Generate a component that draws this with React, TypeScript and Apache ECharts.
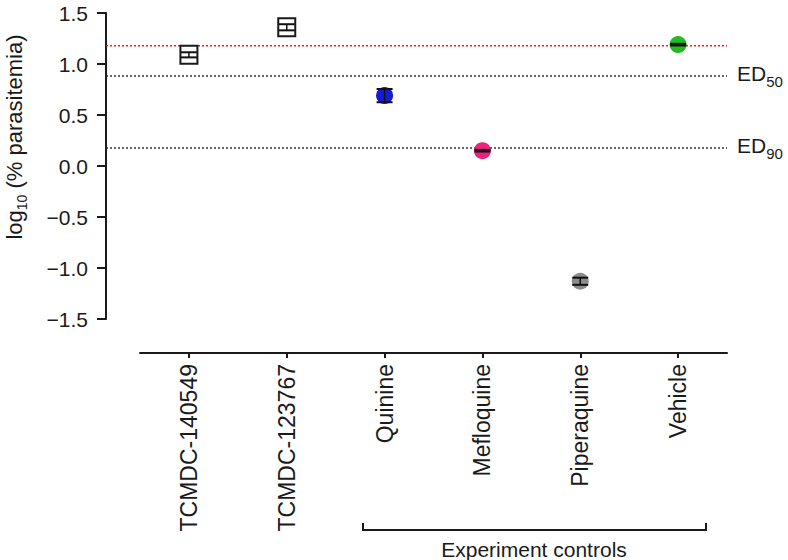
import React, { useEffect, useRef } from "react";
import * as echarts from "echarts";

const categories = ["TCMDC-140549", "TCMDC-123767", "Quinine", "Mefloquine", "Piperaquine", "Vehicle"];
const means = [1.09, 1.36, 0.69, 0.15, -1.13, 1.19];
const errors = [0.025, 0.03, 0.065, 0.008, 0.035, 0.008];
const markerShapes = ["square", "square", "circle", "circle", "circle", "circle"];
const markerColors = ["#ffffff", "#ffffff", "#1a1ad2", "#ee2080", "#8c8c8c", "#22bb22"];
const vehicleMean = 1.18;
const edValues = [0.88, 0.18];
const edLabels = ["50", "90"];
const yMin = -1.5;
const yMax = 1.5;
const yStep = 0.5;
const groupLabel = "Experiment controls";

const FONT = "'Liberation Sans', Arial, Helvetica, sans-serif";
const INK = "#1a1a1a";

export default function App() {
  const ref = useRef<HTMLDivElement>(null);
  useEffect(() => {
    if (!ref.current) return;
    const chart = echarts.init(ref.current, null, { renderer: "svg" });
    const grid0 = { left: 140, right: 61, top: 13, bottom: 241 };
    const grid1 = { left: 106, right: 61, top: 13, bottom: 241 };
    const option: any = {
      animation: false,
      backgroundColor: "#ffffff",
      textStyle: { fontFamily: FONT },
      grid: [grid0, grid1],
      xAxis: [
        {
          type: "category",
          gridIndex: 0,
          data: categories,
          boundaryGap: true,
          offset: 34,
          axisLine: { show: true, onZero: false, lineStyle: { color: INK, width: 2 } },
          axisTick: { show: true, alignWithLabel: true, length: 5, lineStyle: { color: INK, width: 2 } },
          axisLabel: { rotate: 90, margin: 11, fontSize: 23, color: INK, fontFamily: FONT },
          splitLine: { show: false },
        },
        { type: "value", gridIndex: 1, min: 0, max: 1, show: false },
      ],
      yAxis: [
        {
          type: "value",
          gridIndex: 0,
          min: yMin,
          max: yMax,
          interval: yStep,
          offset: 34,
          axisLine: { show: true, onZero: false, lineStyle: { color: INK, width: 2 } },
          axisTick: { show: true, length: 9, lineStyle: { color: INK, width: 2 } },
          axisLabel: {
            fontSize: 21,
            color: INK,
            margin: 18,
            fontFamily: FONT,
            formatter: (v: number) => v.toFixed(1).replace("-", "\u2212"),
          },
          splitLine: { show: false },
        },
        { type: "value", gridIndex: 1, min: yMin, max: yMax, show: false },
      ],
      series: [
        {
          type: "line",
          xAxisIndex: 1,
          yAxisIndex: 1,
          data: [
            [0, vehicleMean],
            [1, vehicleMean],
          ],
          symbol: "none",
          silent: true,
          lineStyle: { color: "#ff1a1a", width: 1.5, type: [2, 2] },
          z: 1,
          markLine: {
            silent: true,
            symbol: ["none", "none"],
            lineStyle: { color: "#333333", width: 1.5, type: [2, 2] },
            data: edValues.map((v, i) => ({
              yAxis: v,
              label: {
                show: true,
                position: "end",
                distance: 10,
                formatter: `{m|ED}{s|${edLabels[i]}}`,
                rich: {
                  m: { fontSize: 21, color: INK, fontFamily: FONT, verticalAlign: "top", lineHeight: 21 },
                  s: { fontSize: 15, color: INK, fontFamily: FONT, verticalAlign: "top", padding: [11, 0, 0, 0] },
                },
              },
            })),
          },
        },
        {
          type: "custom",
          xAxisIndex: 0,
          yAxisIndex: 0,
          data: categories.map((c, i) => [i, means[i], errors[i]]),
          encode: { x: 0, y: 1 },
          z: 5,
          renderItem: (params: any, api: any) => {
            const idx = params.dataIndex;
            const x = api.value(0);
            const m = api.value(1);
            const e = api.value(2);
            const [cx, cy] = api.coord([x, m]);
            const top = api.coord([x, m + e])[1];
            const bot = api.coord([x, m - e])[1];
            const children: any[] = [];
            const half = 8;
            if (markerShapes[idx] === "square") {
              children.push({
                type: "rect",
                shape: { x: cx - 8.5, y: cy - 9, width: 17, height: 18 },
                style: { fill: markerColors[idx], stroke: INK, lineWidth: 2 },
              });
            } else {
              children.push({
                type: "circle",
                shape: { cx, cy, r: 8.5 },
                style: { fill: markerColors[idx], stroke: null },
              });
            }
            children.push(
              { type: "line", shape: { x1: cx - half, y1: top, x2: cx + half, y2: top }, style: { stroke: "#111", lineWidth: 2 } },
              { type: "line", shape: { x1: cx - half, y1: bot, x2: cx + half, y2: bot }, style: { stroke: "#111", lineWidth: 2 } },
              { type: "line", shape: { x1: cx, y1: top, x2: cx, y2: bot }, style: { stroke: "#111", lineWidth: 1.5 } }
            );
            return { type: "group", children };
          },
        },
      ],
      graphic: [
        {
          type: "text",
          x: 16,
          y: 137,
          rotation: Math.PI / 2,
          style: {
            text: "{a|log}{b|10}{a| (% parasitemia)}",
            textAlign: "center",
            textVerticalAlign: "middle",
            fill: INK,
            rich: {
              a: { fontSize: 22, fontFamily: FONT, fill: INK, verticalAlign: "top", lineHeight: 22 },
              b: { fontSize: 14, fontFamily: FONT, fill: INK, verticalAlign: "top", padding: [12, 0, 0, 0] },
            },
          },
        },
        {
          type: "polyline",
          shape: { points: [[363, 523], [363, 530], [706, 530], [706, 523]] },
          style: { stroke: INK, lineWidth: 2, fill: null },
        },
        {
          type: "text",
          x: 534,
          y: 549,
          style: {
            text: groupLabel,
            textAlign: "center",
            textVerticalAlign: "middle",
            fontSize: 21,
            fontFamily: FONT,
            fill: INK,
          },
        },
      ],
    };
    chart.setOption(option);
    return () => chart.dispose();
  }, []);
  return <div ref={ref} style={{ position: "fixed", left: 0, top: 0, width: 788, height: 560 }} />;
}
